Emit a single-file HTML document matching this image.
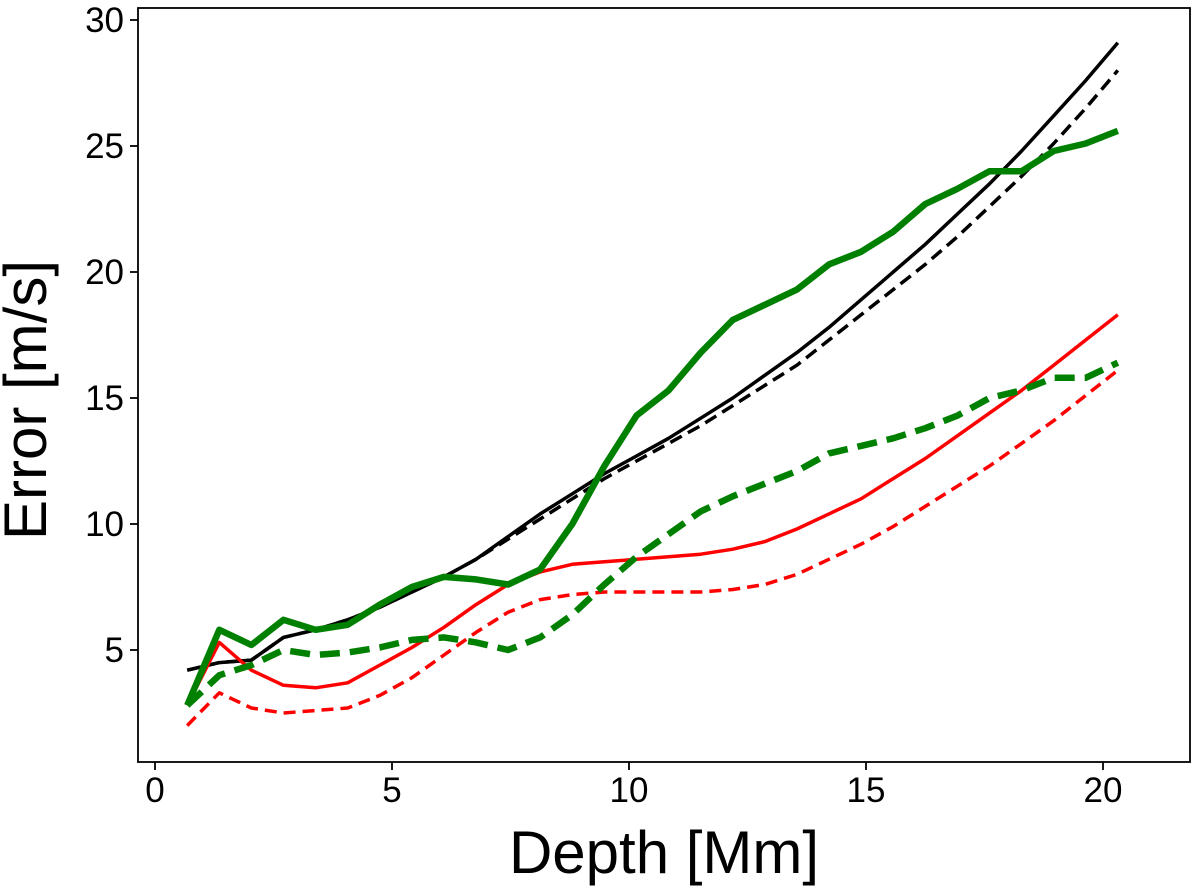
<!DOCTYPE html>
<html><head><meta charset="utf-8"><style>
body{margin:0;background:#fff;}
svg{display:block;font-family:"Liberation Sans","DejaVu Sans",sans-serif;}
</style></head><body>
<svg id="chart" width="1200" height="889" viewBox="0 0 1200 889"></svg>
<script>
const xStart = 0.68, xStep = 0.677;
const blackSolid = [4.2,4.5,4.6,5.5,5.8,6.2,6.7,7.3,7.9,8.6,9.5,10.4,11.2,12.0,12.7,13.4,14.2,15.0,15.9,16.8,17.8,18.9,20.0,21.1,22.3,23.5,24.8,26.2,27.6,29.1];
const blackDashed = [4.2,4.5,4.6,5.5,5.8,6.2,6.7,7.3,7.9,8.6,9.4,10.2,11.0,11.8,12.5,13.2,13.9,14.7,15.5,16.3,17.3,18.3,19.3,20.3,21.4,22.6,23.8,25.1,26.5,28.0];
const greenSolid = [2.8,5.8,5.2,6.2,5.8,6.0,6.8,7.5,7.9,7.8,7.6,8.2,10.0,12.3,14.3,15.3,16.8,18.1,18.7,19.3,20.3,20.8,21.6,22.7,23.3,24.0,24.0,24.8,25.1,25.6];
const greenDashed = [2.8,4.0,4.4,5.0,4.8,4.9,5.1,5.4,5.5,5.3,5.0,5.5,6.4,7.6,8.7,9.6,10.5,11.1,11.6,12.1,12.8,13.1,13.4,13.8,14.3,15.0,15.3,15.8,15.8,16.4];
const redSolid = [2.8,5.3,4.2,3.6,3.5,3.7,4.4,5.1,5.9,6.8,7.6,8.1,8.4,8.5,8.6,8.7,8.8,9.0,9.3,9.8,10.4,11.0,11.8,12.6,13.5,14.4,15.3,16.3,17.3,18.3];
const redDashed = [2.0,3.3,2.7,2.5,2.6,2.7,3.2,3.9,4.8,5.7,6.5,7.0,7.2,7.3,7.3,7.3,7.3,7.4,7.6,8.0,8.6,9.2,9.9,10.7,11.5,12.3,13.2,14.1,15.1,16.1];
const xTicks = [0,5,10,15,20];
const yTicks = [5,10,15,20,25,30];

const NS="http://www.w3.org/2000/svg";
const svg=document.getElementById('chart');
const L=138,R=1190,T=8,B=762;
const X=v=>155+v*47.4;
const Y=v=>650-(v-5)*25.2;
function mk(tag,attrs,parent){const e=document.createElementNS(NS,tag);for(const k in attrs)e.setAttribute(k,attrs[k]);(parent||svg).appendChild(e);return e;}

const series=[
 [blackDashed,'#000',3.5,'13,7','black-dashed-line'],
 [blackSolid,'#000',3.5,'','black-solid-line'],
 [redDashed,'#ff0000',3.5,'12,7','red-dashed-line'],
 [redSolid,'#ff0000',3.5,'','red-solid-line'],
 [greenDashed,'#008000',6.5,'20,10','green-dashed-line'],
 [greenSolid,'#008000',6.5,'','green-solid-line']
];
for(const s of series){
  const pts=s[0].map((v,i)=>X(xStart+i*xStep).toFixed(1)+','+Y(v).toFixed(1)).join(' ');
  const p=mk('polyline',{points:pts,fill:'none',stroke:s[1],'stroke-width':s[2],'stroke-linejoin':'round'});
  if(s[3])p.setAttribute('stroke-dasharray',s[3]);
  
  
}
const frame=mk('rect',{x:L,y:T,width:R-L,height:B-T,fill:'none',stroke:'#000','stroke-width':1.8});


for(const t of xTicks){
  const g=mk('g',{});
  
  
  mk('line',{x1:X(t),x2:X(t),y1:B,y2:B+8,stroke:'#000','stroke-width':1.8},g);
  const tx=mk('text',{x:X(t),y:B+40,'font-size':35,'text-anchor':'middle'},g);tx.textContent=t;
}
for(const t of yTicks){
  const g=mk('g',{});
  
  
  mk('line',{x1:L-8,x2:L,y1:Y(t),y2:Y(t),stroke:'#000','stroke-width':1.8},g);
  const tx=mk('text',{x:L-14,y:Y(t)+12,'font-size':35,'text-anchor':'end'},g);tx.textContent=t;
}
const xl=mk('text',{x:664,y:873,'font-size':60,'text-anchor':'middle'});xl.textContent='Depth [Mm]';


const yl=mk('text',{x:0,y:0,'font-size':60,'text-anchor':'middle',transform:'translate(46,400) rotate(-90)'});yl.textContent='Error [m/s]';


</script>
</body></html>
